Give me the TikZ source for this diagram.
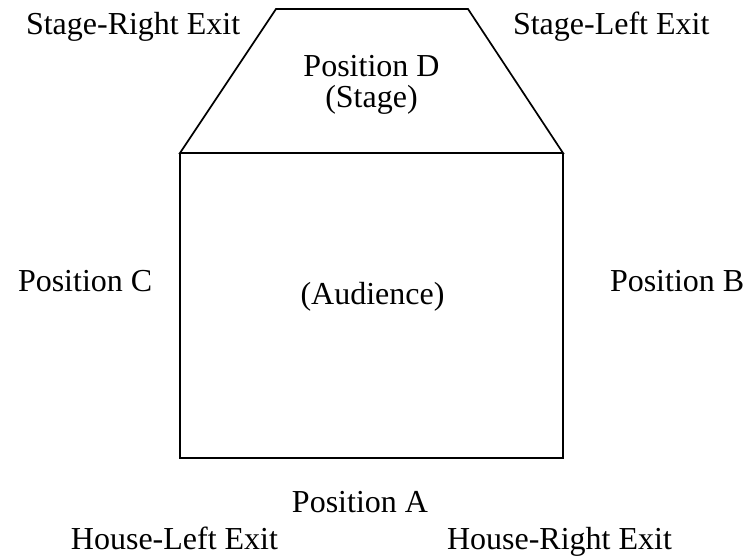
\documentclass[tikz,border=0pt]{standalone}
\usepackage{fontspec}
\setmainfont{Liberation Serif}
\begin{document}
\begin{tikzpicture}[x=1pt,y=-1pt,
  outline/.style={draw=black,line width=1.7pt,line join=miter},
  lbl/.style={inner sep=0pt,outer sep=0pt,font=\fontsize{32}{38}\selectfont}]
\useasboundingbox (0,0) rectangle (745,555);
% corners
\coordinate (tl) at (276,9);
\coordinate (tr) at (468,9);
\coordinate (ml) at (180,153);
\coordinate (mr) at (563,153);
\coordinate (bl) at (180,458);
\coordinate (br) at (563,458);
% stage (trapezoid) and audience (rectangle)
\draw[outline] (ml) -- (tl) -- (tr) -- (mr) -- cycle;
\draw[outline] (ml) -- (bl) -- (br) -- (mr);
% labels
\node[lbl,anchor=base west] (srexit) at (26,34) {Stage-Right Exit};
\node[lbl,anchor=base west] (slexit) at (513,34) {Stage-Left Exit};
\node[lbl,anchor=base] (posd) at (371.5,76) {Position D};
\node[lbl,anchor=base] (stage) at (371.5,107) {(Stage)};
\node[lbl,anchor=base west] (posc) at (18,291) {Position C};
\node[lbl,anchor=base west] (posb) at (610,291) {Position B};
\node[lbl,anchor=base] (aud) at (372.5,304) {(Audience)};
\node[lbl,anchor=base] (posa) at (360,512) {Position A};
\node[lbl,anchor=base east] (hlexit) at (278,549) {House-Left Exit};
\node[lbl,anchor=base west] (hrexit) at (447,549) {House-Right Exit};
\end{tikzpicture}
\end{document}
